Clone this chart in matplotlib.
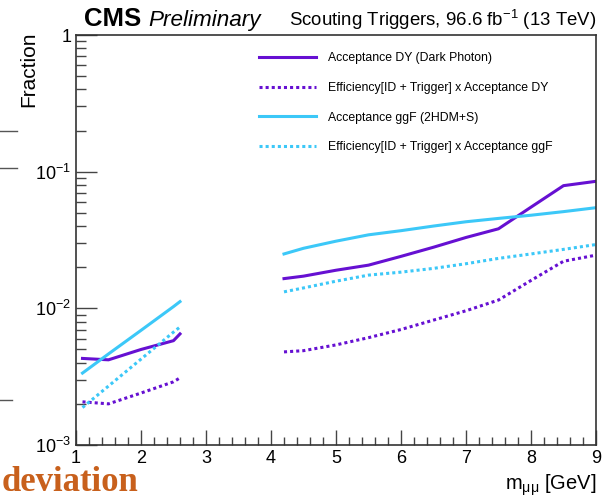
import numpy as np
import matplotlib
matplotlib.use("Agg")
import matplotlib.pyplot as plt
from matplotlib import ticker
from matplotlib.lines import Line2D

plt.rcParams['font.family'] = ['Liberation Sans', 'DejaVu Sans']
plt.rcParams['mathtext.fontset'] = 'custom'
plt.rcParams['mathtext.rm'] = 'Liberation Sans'
plt.rcParams['mathtext.it'] = 'Liberation Sans:italic'

# low mass window
m_low = [1.1, 1.5, 2.0, 2.5, 2.6]
acc_dy_low = [0.0043, 0.0042, 0.0050, 0.0058, 0.0065]
eff_dy_low = [0.00207, 0.0020, 0.0024, 0.0029, 0.0031]
acc_ggf_low = [0.00336, 0.00464, 0.0069, 0.0103, 0.0112]
eff_ggf_low = [0.00188, 0.0027, 0.00425, 0.0067, 0.0073]

# high mass window
m_high = [4.2, 4.5, 5.0, 5.5, 6.0, 6.5, 7.0, 7.5, 8.0, 8.5, 9.0]
acc_dy_high = [0.0165, 0.0172, 0.0190, 0.0207, 0.0240, 0.0280, 0.0330, 0.0382, 0.055, 0.079, 0.085]
eff_dy_high = [0.0048, 0.0049, 0.0054, 0.0061, 0.0070, 0.0082, 0.0096, 0.0115, 0.016, 0.0221, 0.0245]
acc_ggf_high = [0.0250, 0.0275, 0.0310, 0.0345, 0.0370, 0.0400, 0.0430, 0.0455, 0.0480, 0.0510, 0.0545]
eff_ggf_high = [0.0132, 0.0141, 0.0158, 0.0175, 0.0184, 0.0196, 0.0212, 0.0232, 0.0250, 0.0270, 0.0293]

labels = ['Acceptance DY (Dark Photon)',
          'Efficiency[ID + Trigger] x Acceptance DY',
          'Acceptance ggF (2HDM+S)',
          'Efficiency[ID + Trigger] x Acceptance ggF']

purple = '#6610d2'
cyan = '#3cc8f8'
dots = (0, (1, 1))

fig = plt.figure(figsize=(6.16, 4.98), dpi=100)
ax = fig.add_axes([76/616, 53/498, 520/616, 410/498])

lw = 2.2
ax.plot(m_low, acc_dy_low, color=purple, lw=lw, label=labels[0])
ax.plot(m_low, eff_dy_low, color=purple, lw=lw, ls=dots, label=labels[1])
ax.plot(m_low, acc_ggf_low, color=cyan, lw=lw, label=labels[2])
ax.plot(m_low, eff_ggf_low, color=cyan, lw=lw, ls=dots, label=labels[3])
ax.plot(m_high, acc_dy_high, color=purple, lw=lw)
ax.plot(m_high, eff_dy_high, color=purple, lw=lw, ls=dots)
ax.plot(m_high, acc_ggf_high, color=cyan, lw=lw)
ax.plot(m_high, eff_ggf_high, color=cyan, lw=lw, ls=dots)

ax.set_yscale('log')
ax.set_xlim(1, 9)
ax.set_ylim(1e-3, 1)

def yfmt(v, pos):
    if abs(v - 1) < 1e-9:
        return '1'
    return r'$10^{%d}$' % int(round(np.log10(v)))

ax.yaxis.set_major_formatter(ticker.FuncFormatter(yfmt))
ax.xaxis.set_major_locator(ticker.MultipleLocator(1))
ax.xaxis.set_minor_locator(ticker.MultipleLocator(0.2))
ax.tick_params(which='both', direction='in', top=False, right=False, color='#444444')
ax.tick_params(which='major', length=11, width=1, labelsize=13)
ax.tick_params(which='minor', length=6, width=1)
ax.tick_params(axis='y', which='major', length=15)
ax.tick_params(axis='y', which='minor', length=7)
for s in ax.spines.values():
    s.set_color('#333333')
    s.set_linewidth(1.2)

ax.set_ylabel('Fraction', loc='top', fontsize=15)
ax.yaxis.set_label_coords(-0.073, 1.008)
ax.set_xlabel(r'm$_{\mathrm{μμ}}$ [GeV]', loc='right', fontsize=14.5)
ax.xaxis.set_label_coords(1.0, -0.068)

ax.legend(loc='upper left', bbox_to_anchor=(0.33, 0.985), frameon=False,
          fontsize=8.8, handlelength=4.7, handletextpad=1.0, labelspacing=1.45)

fig.text(84/616, 1 - 26/498, 'CMS', fontsize=18.5, fontweight='bold', va='baseline')
fig.text(148/616, 1 - 26/498, 'Preliminary', fontsize=16.2, style='italic', va='baseline')
fig.text(596/616, 1 - 26/498, r'Scouting Triggers, 96.6 fb$^{-1}$ (13 TeV)',
         fontsize=13.4, ha='right', va='baseline')

fig.text(0.002, 1 - 491/498, 'deviation', fontsize=25, fontweight='bold', color='#c8601c',
         family=['Liberation Serif', 'DejaVu Serif'], va='baseline')
for yy, x2 in [(131, 17), (168, 17), (400, 12)]:
    fig.add_artist(Line2D([0, x2/616], [1 - yy/498, 1 - yy/498], color='#555555', lw=1))

fig.savefig('out.png', dpi=100)
